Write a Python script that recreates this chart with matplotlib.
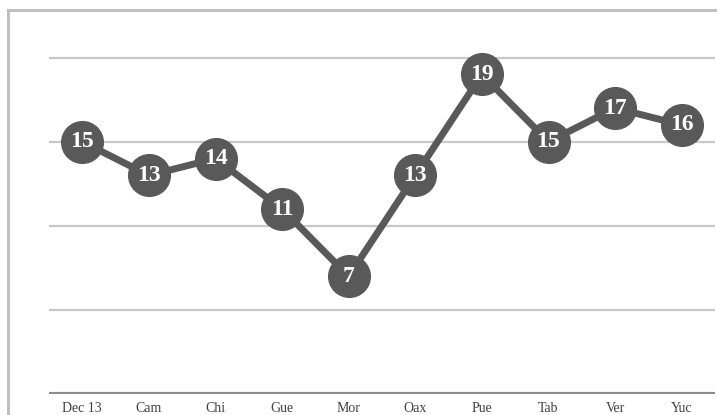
import matplotlib.pyplot as plt
from matplotlib.patches import Rectangle

categories = ['Dec 13', 'Cam', 'Chi', 'Gue', 'Mor', 'Oax', 'Pue', 'Tab', 'Ver', 'Yuc']
values = [15, 13, 14, 11, 7, 13, 19, 15, 17, 16]
grid_levels = [5, 10, 15, 20]

W, H = 717, 415
fig = plt.figure(figsize=(W / 100, H / 100), dpi=100)
# axes box in pixels: left 49, right 715, bottom y=394, top ~24
ax = fig.add_axes([49 / W, 1 - 394 / H, 666 / W, (394 - 24) / H])

# outer border of the chart (right and bottom lie outside the picture)
fig.patches.append(Rectangle((8 / W, -0.1), 1.2, 1 - 10 / H + 0.1,
                             transform=fig.transFigure, fill=False,
                             edgecolor='#c0c0c0', linewidth=2.2))

x = list(range(len(categories)))
for g in grid_levels:
    ax.axhline(g, color='#c8c8c8', linewidth=1.6, zorder=1)
ax.axhline(0, color='#8c8c8c', linewidth=3, zorder=2)

ax.plot(x, values, color='#595959', linewidth=5, marker='o',
        markersize=30, markerfacecolor='#595959', markeredgecolor='#595959',
        zorder=3, solid_capstyle='round')
for xi, v in zip(x, values):
    ax.text(xi, v, str(v), ha='center', va='center', color='white',
            fontsize=17, fontweight='bold', family='Liberation Serif', zorder=4)

ax.set_xlim(-0.5, len(categories) - 0.5)
ax.set_ylim(0, 22)
ax.set_xticks(x)
ax.set_xticklabels(categories, family='Liberation Serif', fontsize=10, color='#404040')
ax.tick_params(axis='x', length=0, pad=6)
ax.set_yticks([])
for s in ax.spines.values():
    s.set_visible(False)
ax.patch.set_alpha(0)

fig.savefig('out.png', dpi=100)
